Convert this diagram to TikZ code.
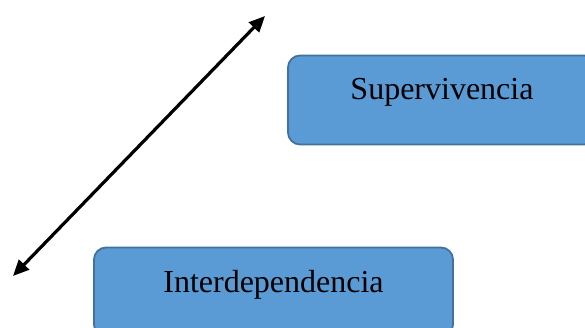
\documentclass[tikz,border=0pt]{standalone}
\usepackage{fontspec}
\setmainfont{Liberation Serif}
\usetikzlibrary{arrows.meta}

\definecolor{boxfill}{HTML}{5B9BD5}
\definecolor{boxline}{HTML}{41719C}

\tikzset{
    concept/.style={draw=boxline, fill=boxfill, line width=1.8pt, rounded corners=12pt,
        minimum height=89pt, inner sep=0pt, text height=20pt, text depth=20pt,
        font=\fontsize{32}{38}\selectfont}
}

\begin{document}
\begin{tikzpicture}[x=1pt, y=-1pt]
        \useasboundingbox (0, 0) rectangle (585, 328);
        \clip (0, 0) rectangle (585, 328);

        \coordinate (A) at (13, 276);
        \coordinate (B) at (265, 16);

        \node[concept, minimum width=308pt] (superv) at (442, 100) {Supervivencia};
        \node[concept, minimum width=359pt] (interd) at (273.5, 292) {Interdependencia};

        \draw[{Triangle[length=16pt, width=14pt]}-{Triangle[length=16pt, width=14pt]}, line width=3.2pt] (A) -- (B);
    \end{tikzpicture}
\end{document}
